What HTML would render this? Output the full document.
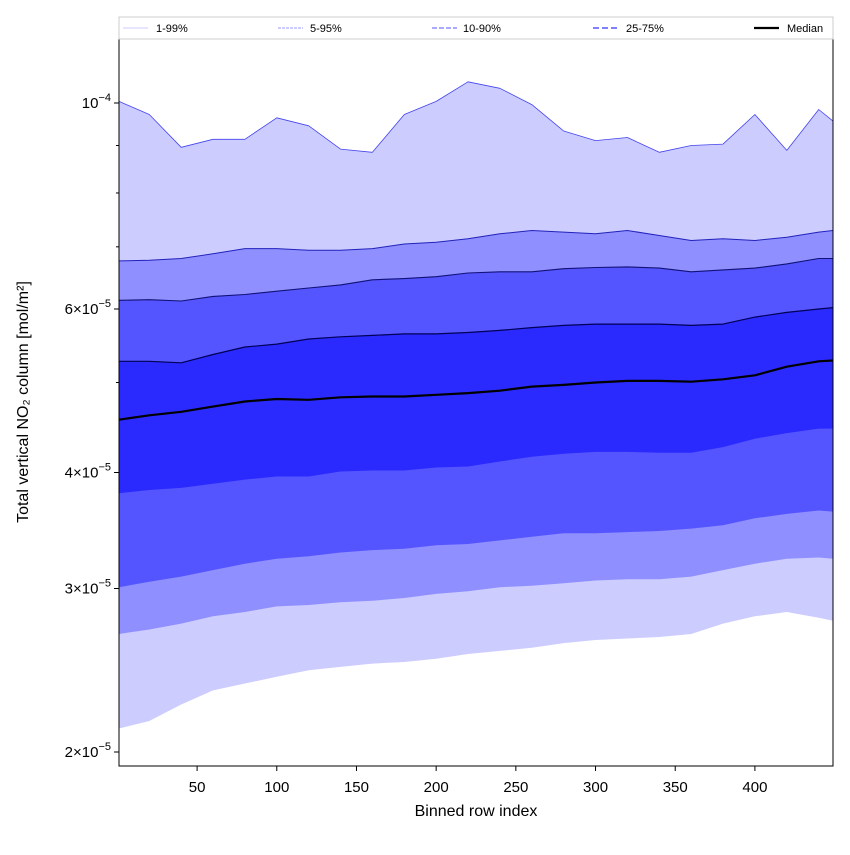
<!DOCTYPE html>
<html><head><meta charset="utf-8"><style>
body{margin:0;background:#fff}
svg text{font-family:"Liberation Sans","DejaVu Sans",sans-serif}
</style></head><body>
<svg id="chart" width="850" height="850" xmlns="http://www.w3.org/2000/svg">
<rect width="850" height="850" fill="#fff"/>
<g id="bands"></g>
<g id="lines"></g>
<rect x="119" y="39" width="714" height="727" fill="none" stroke="#000" stroke-width="1"/>
<g id="xticks"></g>
<g id="yticks"></g>
<text x="476" y="816" font-size="16" text-anchor="middle">Binned row index</text>
<text transform="translate(28,402) rotate(-90)" font-size="16" text-anchor="middle">Total vertical NO₂ column [mol/m²]</text>
<g>
<rect x="119" y="17" width="714" height="22" fill="#fff" stroke="#ccc" stroke-width="1"/>
<line x1="123" y1="28" x2="148" y2="28" stroke="#ccccff" stroke-width="1"/>
<text x="156" y="32" font-size="11">1-99%</text>
<line x1="278" y1="28" x2="303" y2="28" stroke="#9a9aff" stroke-width="1" stroke-dasharray="3,1"/>
<text x="310" y="32" font-size="11">5-95%</text>
<line x1="432" y1="28" x2="457" y2="28" stroke="#7777ff" stroke-width="1.3" stroke-dasharray="5,2"/>
<text x="463" y="32" font-size="11">10-90%</text>
<line x1="593" y1="28" x2="618" y2="28" stroke="#5555ff" stroke-width="1.6" stroke-dasharray="6,3"/>
<text x="626" y="32" font-size="11">25-75%</text>
<line x1="754" y1="28" x2="779" y2="28" stroke="#000" stroke-width="2.2"/>
<text x="787" y="32" font-size="11">Median</text>
</g>
</svg>
<script>
const rows = [1,20,40,60,80,100,120,140,160,180,200,220,240,260,280,300,320,340,360,380,400,420,440,449];
// values in units of 1e-5 mol/m²
const p99 = [10.04,9.72,8.96,9.14,9.14,9.64,9.45,8.92,8.85,9.72,10.04,10.54,10.37,9.96,9.33,9.11,9.18,8.85,9.00,9.03,9.72,8.89,9.84,9.56];
const p95 = [6.76,6.77,6.80,6.88,6.97,6.97,6.94,6.94,6.97,7.05,7.08,7.14,7.23,7.29,7.26,7.23,7.29,7.20,7.11,7.14,7.11,7.17,7.26,7.29];
const p90 = [6.13,6.14,6.12,6.19,6.22,6.27,6.32,6.37,6.45,6.47,6.50,6.56,6.58,6.58,6.63,6.65,6.66,6.64,6.58,6.61,6.64,6.71,6.80,6.80];
const p75 = [5.27,5.27,5.25,5.36,5.46,5.50,5.57,5.60,5.62,5.64,5.64,5.66,5.69,5.73,5.76,5.78,5.78,5.78,5.76,5.78,5.88,5.95,6.00,6.02];
const p50 = [4.56,4.61,4.65,4.71,4.77,4.80,4.79,4.82,4.83,4.83,4.85,4.87,4.90,4.95,4.97,5.00,5.02,5.02,5.01,5.04,5.09,5.20,5.27,5.28];
const p25 = [3.80,3.83,3.85,3.89,3.93,3.96,3.96,4.01,4.02,4.02,4.05,4.06,4.11,4.16,4.19,4.21,4.21,4.20,4.20,4.26,4.35,4.41,4.46,4.46];
const p10 = [3.01,3.05,3.09,3.14,3.19,3.23,3.25,3.28,3.30,3.31,3.34,3.35,3.38,3.41,3.44,3.44,3.45,3.46,3.48,3.51,3.57,3.61,3.64,3.63];
const p05 = [2.68,2.71,2.75,2.80,2.83,2.87,2.88,2.90,2.91,2.93,2.96,2.98,3.01,3.02,3.04,3.06,3.07,3.07,3.09,3.14,3.19,3.23,3.24,3.23];
const p01 = [2.12,2.16,2.25,2.33,2.37,2.41,2.45,2.47,2.49,2.50,2.52,2.55,2.57,2.59,2.62,2.64,2.65,2.66,2.68,2.75,2.80,2.83,2.79,2.77];
const xTicks = [50,100,150,200,250,300,350,400];
const yMajor = [2,3,4,6,10];
const yMajorLabels = ["2×10","3×10","4×10","6×10","10"];
const yMajorExp = ["−5","−5","−5","−5","−4"];
const yMinor = [5,7,8,9];

const NS = "http://www.w3.org/2000/svg";
function xs(r){ return 119 + (r - 1) * (714 / 448); }
function ys(v){ return 103 + 928.5 * Math.log10(10 / v); }
function mk(tag, attrs, parent){
  const e = document.createElementNS(NS, tag);
  for (const k in attrs) e.setAttribute(k, attrs[k]);
  parent.appendChild(e);
  return e;
}
function pts(arr){ return rows.map((r,i)=>xs(r).toFixed(1)+","+ys(arr[i]).toFixed(1)); }

const bands = document.getElementById("bands");
const bandDefs = [[p99,p01,"#ccccff","band-1-99"],[p95,p05,"#8f8fff","band-5-95"],[p90,p10,"#5555ff","band-10-90"],[p75,p25,"#2a2aff","band-25-75"]];
bandDefs.forEach(b=>{
  const d = pts(b[0]).concat(pts(b[1]).reverse()).join(" ");
  const p = mk("polygon",{points:d, fill:b[2], stroke:"none"}, bands);
  
  
});
const lines = document.getElementById("lines");
const lineDefs = [[p99,"#4444ee",0.8,"line-p99"],[p95,"#2222bb",1,"line-p95"],[p90,"#111177",1.1,"line-p90"],[p75,"#000055",1.2,"line-p75"],[p50,"#000",2.2,"line-median"]];
lineDefs.forEach(l=>{
  const p = mk("polyline",{points:pts(l[0]).join(" "), fill:"none", stroke:l[1], "stroke-width":l[2], "stroke-linejoin":"round"}, lines);
  
  
});

const xg = document.getElementById("xticks");
xTicks.forEach(t=>{
  const x = xs(t);
  const tk = mk("line",{x1:x,y1:766,x2:x,y2:771,stroke:"#000"}, xg);
  
  
  const tx = mk("text",{x:x,y:792,"font-size":15,"text-anchor":"middle"}, xg);
  tx.textContent = t;
  
  
});
const yg = document.getElementById("yticks");
yMajor.forEach((v,i)=>{
  const y = ys(v);
  const tk = mk("line",{x1:114,y1:y,x2:119,y2:y,stroke:"#000"}, yg);
  
  
  const tx = mk("text",{x:111,y:y+5,"font-size":15,"text-anchor":"end"}, yg);
  
  
  const a = document.createElementNS(NS,"tspan"); a.textContent = yMajorLabels[i]; tx.appendChild(a);
  const b = document.createElementNS(NS,"tspan"); b.setAttribute("dy","-7"); b.setAttribute("font-size","11"); b.textContent = yMajorExp[i]; tx.appendChild(b);
});
yMinor.forEach(v=>{
  const y = ys(v);
  const tk = mk("line",{x1:116,y1:y,x2:119,y2:y,stroke:"#000"}, yg);
  
  
});
</script>
</body></html>
